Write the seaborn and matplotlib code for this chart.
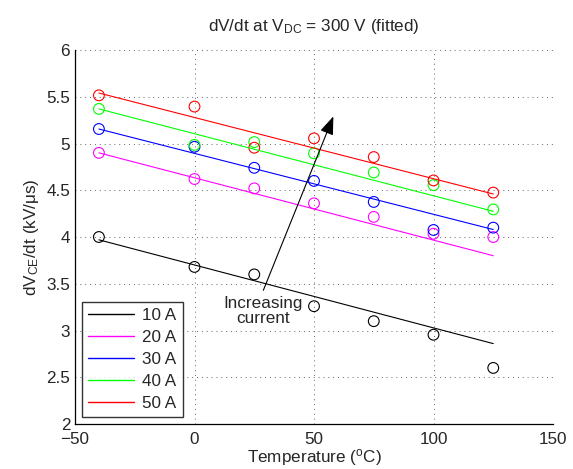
import numpy as np
import pandas as pd
import seaborn as sns
import matplotlib.pyplot as plt
from matplotlib.lines import Line2D
from matplotlib.ticker import MultipleLocator, AutoMinorLocator

# measured dV/dt (kV/us) at each temperature
temps = [-40, 0, 25, 50, 75, 100, 125]
currents = ["10 A", "20 A", "30 A", "40 A", "50 A"]
dvdt_10 = [4.00, 3.68, 3.60, 3.26, 3.10, 2.955, 2.60]
dvdt_20 = [4.90, 4.62, 4.52, 4.36, 4.215, 4.035, 4.00]
dvdt_30 = [5.155, 4.965, 4.74, 4.60, 4.375, 4.075, 4.10]
dvdt_40 = [5.37, 4.985, 5.015, 4.895, 4.69, 4.555, 4.295]
dvdt_50 = [5.515, 5.395, 4.955, 5.055, 4.855, 4.605, 4.475]

# fitted lines: value at -40 C and at 125 C
fit_x = [-40, 125]
fit_10 = [3.97, 2.86]
fit_20 = [4.90, 3.80]
fit_30 = [5.155, 4.08]
fit_40 = [5.37, 4.275]
fit_50 = [5.54, 4.46]

colors = ["#000000", "#ff00ff", "#0000ff", "#00ff00", "#ff0000"]

meas = pd.DataFrame({
    "T": temps * 5,
    "dvdt": dvdt_10 + dvdt_20 + dvdt_30 + dvdt_40 + dvdt_50,
    "I": [c for c in currents for _ in temps],
})
fits = pd.DataFrame({
    "T": fit_x * 5,
    "dvdt": fit_10 + fit_20 + fit_30 + fit_40 + fit_50,
    "I": [c for c in currents for _ in fit_x],
})

fs = 12.3
sns.set_style("white")
plt.rcParams["font.family"] = ["Liberation Sans", "DejaVu Sans"]
plt.rcParams["font.size"] = fs
plt.rcParams["mathtext.fontset"] = "custom"
plt.rcParams["mathtext.rm"] = "Liberation Sans"
plt.rcParams["mathtext.it"] = "Liberation Sans"

fig = plt.figure(figsize=(5.73, 4.69), dpi=100)
ax = fig.add_axes([0.1309, 0.0959, 0.8342, 0.7975])

pal = dict(zip(currents, colors))
sns.lineplot(data=fits, x="T", y="dvdt", hue="I", palette=pal, lw=0.8, ax=ax, legend=False)
sns.scatterplot(data=meas, x="T", y="dvdt", hue="I", palette=pal, ax=ax,
                marker="o", s=60, legend=False)
# open circles: seaborn fills them, so restyle
for coll in ax.collections:
    fc = coll.get_facecolors()
    coll.set_edgecolors(fc)
    coll.set_facecolors("none")
    coll.set_linewidths(0.8)

ax.set_xlim(-50, 150)
ax.set_ylim(2, 6)
ax.xaxis.set_major_locator(MultipleLocator(50))
ax.yaxis.set_major_locator(MultipleLocator(0.5))
ax.xaxis.set_minor_locator(AutoMinorLocator(20))
ax.yaxis.set_minor_locator(AutoMinorLocator(5))
ax.tick_params(which="major", direction="in", length=5, width=0.8, labelsize=fs, color="k")
ax.tick_params(axis="x", which="major", pad=6)
ax.tick_params(which="minor", direction="in", length=2.5, width=0.6, color="k")
ax.yaxis.set_major_formatter(plt.FuncFormatter(lambda v, p: f"{v:g}"))
ax.grid(True, which="major", linestyle=(0, (1, 4)), color="#666666", lw=0.7)
for s in ["top", "right"]:
    ax.spines[s].set_visible(False)
for s in ["left", "bottom"]:
    ax.spines[s].set_color("k")
    ax.spines[s].set_linewidth(0.9)

ax.set_title(r"dV/dt at V$_{\mathrm{DC}}$ = 300 V (fitted)", fontsize=fs, pad=14)
ax.set_xlabel("Temperature ($^{\\mathrm{o}}$C)", fontsize=fs, labelpad=0)
ax.set_ylabel(r"dV$_{\mathrm{CE}}$/dt (kV/μs)", fontsize=fs, labelpad=4)

ax.annotate("", xy=(58.1, 5.29), xytext=(28.8, 3.43),
            arrowprops=dict(arrowstyle="-|>,head_length=0.8,head_width=0.3",
                            color="k", lw=0.8, shrinkA=0, shrinkB=0, mutation_scale=14))
ax.text(28.6, 3.21, "Increasing\ncurrent", ha="center", va="center", fontsize=fs,
        linespacing=1.05)

handles = [Line2D([], [], color=c, lw=1.0) for c in colors]
leg = ax.legend(handles, currents, loc="lower left", fontsize=fs, frameon=True,
                fancybox=False, edgecolor="k", handlelength=2.7, labelspacing=0.42,
                borderaxespad=0.4, handletextpad=0.5, borderpad=0.35)
leg.get_frame().set_linewidth(1.0)

fig.savefig("out.png", dpi=100)
